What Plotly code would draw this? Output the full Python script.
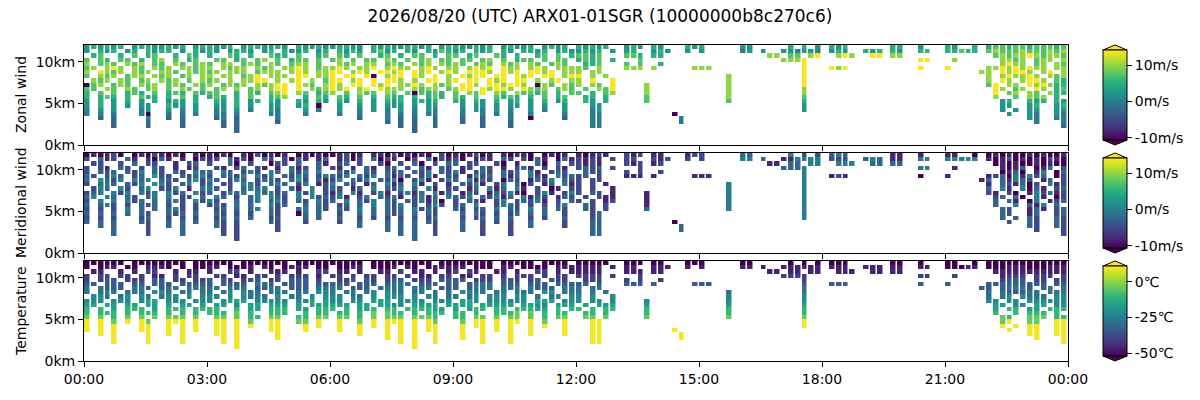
import plotly.graph_objects as go
from plotly.subplots import make_subplots

# ---------------- data ----------------
TITLE = "2026/08/20 (UTC) ARX01-01SGR (10000000b8c270c6)"
PANEL_NAMES = ["Zonal wind", "Meridional wind", "Temperature"]

TIME_BIN_MINUTES = 10          # width of one grid column
ALTITUDE_KM = [11.75, 11.25, 10.75, 10.25, 9.75, 9.25, 8.75, 8.25, 7.75, 7.25, 6.75,
               6.25, 5.75, 5.25, 4.75, 4.25, 3.75, 3.25, 2.75, 2.25, 1.75]

# value of each code digit
WIND_LEVELS_MS = [-11, -8, -5, -2.5, 0, 2.5, 5, 7.5, 10, 14]
TEMP_LEVELS_C = [-52, -46, -40, -34, -28, -22, -16, -10, -4, 10]

# zonal wind grid: one string per altitude row (top first), 8 blocks of 3 h
# (18 ten-minute columns each); '.' = no observation
ZONAL_ROWS = [
    "565656.56655656.56 6556.5665565.65565 56655.656556656.56 655656.56556.5656. 65656..565.65...65 6.....55.....6.6.5 .656......66..5... 65..6.677677677767",
    "5.656.56.6566.5.65 65.5665.56.6556.56 .6565.6756.65.6576 56.656.65.6656.565 5656.5.56..565..5. 5.....45.5..554554 .565..656.65..66.. 66766.787778777878",
    ".67..6.7.67..6.76. 6..76.6..766.7..67 .76.7..67.6.77.6.7 7.67..76.6..67.7.6 7767...776.66..... ..........88.77.89 ..898..99.88...... .......78788987887",
    "7.76.77.6.78.7.67. .77.67.78.7.677.7. 78.7.77.87.7.78.77 .77.78.7.677.7.77. 6767.6...7........ ............8889.. ..............99.. .8......8878.788.8",
    "8.787.878.77.87.78 7.88.787.87.788.7. .878.88.787.878.87 87.787.878.87.787. .667...7.7..6..... ...............9.. .................. ........8988.78.87",
    "78.898.87.878.8878 8.8788.878.8898.78 898.889.8988.898.8 8.8989.988.898.888 87.8...888.8.....8 88.............9.. .989..........9... 9.....889898988.88",
    "8.9878.878.887.878 78.888.7888.898.88 99.898.9989.989.89 8.9998.989.9989.88 8.88.............. ...............9.. .................. .....88.98998.89.8",
    "7.878.788.878.78.8 8.88.789.888.99.88 9.99.90.899.98.9.8 .9899.99.989.99.89 9.8.8............. ....8..........9.. .................. ......8.898898.878",
    ".878.87.78.878.7.8 78.8.8899.8.89.8.7 99.89.9.998.8.99.8 9.99.989.99.8.89.8 8.9..9............ ....8..........9.. .................. ......8.98.8998.76",
    "078.787.878.787.87 8.7878.87899.987.8 98.99.989.8898.878 .998.998998.087.87 8.87.9....8....... ....8..........9.. .................. ......79.88.989866",
    "77.87.87.78.7.87.7 .78.8.78.899.9.878 989.89.9888.8788.7 899.98998.9878.787 .7.879....8....... ....8..........8.. .................. .......98.78.98.67",
    "6.7.7.676.7.676.76 77..6.76.789.87.67 8.7.877.87.707676. 7.879.87.87767.6.7 7.6.78....8....... ....8..........8.. .................. .......9.78.87.866",
    "6.676.6.766.6.7.6. 676.6.7..678..6.76 .76.7.6.766.6.676. 76.7..7676.6.7.67. .66.6.....7....... ....8..........7.. .................. .......8..7.878.6.",
    "5.6.5.6.5.6.565.6. .65.6.56.65..65.65 .65.6.5.656.5656.. 65.65.6.56.5.6.56. .65.6.....7....... ....7..........6.. .................. ........56..656.65",
    "5.6.5.5.55..655.5. .55.6.5..55..56.0. .5..5.5.555.5.55.. .5.55.5.55.5.5..5. ..55.............. ...............5.. .................. ........55..56..56",
    "4.5.5...45..5.4.5. .45.5.4..54...5.4. .5..4.5.4.5.4.54.. .4.54.5.4..5.4..5. ..45.............. ...............5.. .................. ........5.5.55..55",
    "4.4.4...40..4.4.4. .44.4....44...4... .4..4...4.4.4.44.. .4..4.4.4..4....4. ..44..........0... .................. .................. .........5..54..54",
    "..3.3....4..3.3... .34.3.....4....... ....3...4.3.3..3.. .3..3...4..0....3. ..44...........4.. .................. .................. ............54..44",
    "....3....3....3... ..3.3.....3....... ........3.3.3..3.. .3..3...3......... ..44...........4.. .................. .................. .............4...4",
    "....3....3....3... ..3.3............. ..........3.3..3.. ....3...3......... ..44.............. .................. .................. .................3",
    ".................. ....3............. ............3..... .................. .................. .................. .................. ..................",
]

# meridional wind grid, same columns (shown where an observation exists)
MERIDIONAL_ROWS = [
    "010120101021010110 101011020101201010 012010110201010120 101201010110201011 101212221221122212 222222332222242222 234311111111111111 110001010100101001",
    "213120312103121302 120312013212031213 312021302130213021 203121032120312031 212132122132122121 222222443311114444 222222343311114422 444440101201010210",
    "322132031223013232 231302213022132031 123023120321302213 302213203122301322 212112121211222222 222222222211233244 224442233233222222 111111101010010100",
    "232123212132312123 321123121312312132 213123102312131232 312132312231321213 232322222222222222 222222222222333422 222222222222224422 212222221013201302",
    "243234324332432343 324332423432324243 232413243231324132 413232132324132323 232222121222222222 222222222222222422 222222222222222222 222222220130214103",
    "324243423352243234 243324342433243324 324132423132324132 231423231324213423 232222211121222221 112222222222222422 212122222222220222 122222123041423102",
    "325324243423324352 432243423324352431 241324132403241324 324132403241324132 232222222222222222 222222222222222422 222222222222222222 222221303143201302",
    "243435324354213432 342234423343524312 413241324132413241 132413241302413241 232312111111111111 222242222222222422 222222222222222222 222222123213021412",
    "324324253432243124 432243434324312432 324132413241324132 241324132413240132 222221222222222222 222242222222222422 222222222222222222 222222304124031423",
    "234342434243423342 342434243423342432 132413241324132413 413241324103241324 223221222212222222 222242222222222422 222222222222222222 222222213203142312",
    "342432324342432243 243423342432243423 241324132413241324 324132413241324132 222211222212222222 222242222222222422 222222222222222222 222222223130241302",
    "234243423432342342 423432342342432342 324232413243241302 243213243232413243 232212222212222222 222242222222222422 222222222222222222 222222230312043123",
    "323423243234232423 232342323423243232 423232423243232423 232423243232423243 232322222212222222 222242222222222422 222222222222222222 222222232042314232",
    "232323423232342323 323232342323234232 232342323232423232 323232423234232323 232322222232222222 222242222222222422 222222222222222222 222222223242131423",
    "323232323232323232 232323232323203232 323232323232323232 232323232323232323 222332222222222222 222222222222222422 222222222222222222 222222223242132423",
    "232323232323232323 323232323232323232 232323232323232323 323232323232323232 222332222222222222 222222222222222422 222222222222222222 222222223232323232",
    "323232323232323232 232323232323232323 323232323232323232 232323232323232323 223322222222220322 222222222222222222 222222222222222222 222222223232323232",
    "323232323232323232 232323232323232323 323232323232323232 232323232323232323 223322222222220322 222222222222222222 222222222222222222 222222223232323232",
    "323232323232323232 232323232323232323 323232323232323232 232323232323232323 223322222222220322 222222222222222222 222222222222222222 222222223232323232",
    "323232323232323232 232323232323232323 323232323232323232 232323232323232323 223322222222220322 222222222222222222 222222222222222222 222222223232323232",
    "323232323232323232 232323232323232323 323232323232323232 232323232323232323 223322222222220322 222222222222222222 222222222222222222 222222223232323232",
]

# temperature grid, 30-minute columns (6 per 3 h block)
TEMPERATURE_ROWS = [
    "000000 000000 000000 000000 000000 000000 000000 000000",
    "010100 101010 010101 101001 111111 111111 111111 010101",
    "111211 121112 111211 211121 111111 111111 111111 111111",
    "222122 212221 222212 122222 222222 222222 222222 221222",
    "232322 323232 232323 323232 222222 222222 222222 232322",
    "333333 334333 333433 343333 333333 333333 333333 333333",
    "434344 443434 434443 344434 444444 444444 444444 433434",
    "444544 454445 445444 544454 444444 444444 444444 444344",
    "545455 554545 545554 455545 555555 555555 555555 454545",
    "555655 565556 556555 655565 555555 555555 555555 555555",
    "666666 656666 666566 666656 666666 666666 666666 656565",
    "767677 776767 767776 677767 777777 777777 777777 676767",
    "777777 787777 778777 777877 777777 777777 777777 777777",
    "878888 887878 878887 788878 888888 888888 888888 878787",
    "989899 998989 989998 899989 999999 999999 999999 898989",
    "999999 999999 999999 999999 999999 999999 999999 999999",
    "999999 999999 999999 999999 999999 999999 999999 999999",
    "999999 999999 999999 999999 999999 999999 999999 999999",
    "999999 999999 999999 999999 999999 999999 999999 999999",
    "999999 999999 999999 999999 999999 999999 999999 999999",
    "999999 999999 999999 999999 999999 999999 999999 999999",
]

X_TICK_HOURS = [0, 3, 6, 9, 12, 15, 18, 21, 24]
X_TICK_LABELS = ["00:00", "03:00", "06:00", "09:00", "12:00", "15:00", "18:00", "21:00", "00:00"]
Y_TICK_KM = [0, 5, 10]
Y_TICK_LABELS = ["0km", "5km", "10km"]

WIND_RANGE = [-10.6, 14.2]
TEMP_RANGE = [-52, 11]
WIND_CBAR_TICKS = [-10, 0, 10]
WIND_CBAR_LABELS = ["-10m/s", "0m/s", "10m/s"]
TEMP_CBAR_TICKS = [-50, -25, 0]
TEMP_CBAR_LABELS = ["-50\u2103", "-25\u2103", "0\u2103"]


# ---------------- decoding ----------------
def join_blocks(rows, block_len, name):
    out = []
    for i, row in enumerate(rows):
        blocks = row.split()
        lens = [len(b) for b in blocks]
        if len(blocks) != 8 or any(l != block_len for l in lens):
            raise ValueError(f"{name} row {i}: lens={lens}")
        out.append("".join(blocks))
    return out


zon = join_blocks(ZONAL_ROWS, 18, "zonal")
mer = join_blocks(MERIDIONAL_ROWS, 18, "meridional")
tmp = join_blocks(TEMPERATURE_ROWS, 6, "temperature")
ncols = len(zon[0])
tfac = ncols // len(tmp[0])

times_h = [(c + 0.5) * TIME_BIN_MINUTES / 60.0 for c in range(ncols)]

z_zonal, z_mer, z_tmp = [], [], []
for r in range(len(ALTITUDE_KM)):
    rz, rm, rt = [], [], []
    for c in range(ncols):
        ch = zon[r][c]
        if ch == ".":
            rz.append(None); rm.append(None); rt.append(None)
        else:
            rz.append(WIND_LEVELS_MS[int(ch)])
            rm.append(WIND_LEVELS_MS[int(mer[r][c])])
            rt.append(TEMP_LEVELS_C[int(tmp[r][c // tfac])])
    z_zonal.append(rz); z_mer.append(rm); z_tmp.append(rt)

# ---------------- layout geometry (pixels) ----------------
W, H = 1200, 400
L, R, T, B = 84, 132, 45, 39
PW, PH = W - L - R, H - T - B
GAP = 8
PANEL_H = (PH - 2 * GAP) / 3
CB_X, CB_W, CB_TRI = 1103, 24, 5
FONT = "DejaVu Sans"


def px_x(px):
    return (px - L) / PW


def px_y(py):
    return (H - B - py) / PH


panels = [
    (z_zonal, WIND_RANGE, WIND_CBAR_TICKS, WIND_CBAR_LABELS),
    (z_mer, WIND_RANGE, WIND_CBAR_TICKS, WIND_CBAR_LABELS),
    (z_tmp, TEMP_RANGE, TEMP_CBAR_TICKS, TEMP_CBAR_LABELS),
]

fig = make_subplots(rows=3, cols=1, shared_xaxes=True, vertical_spacing=GAP / PH)

shapes, annotations = [], []
for i, (z, rng, tv, tt) in enumerate(panels):
    top = T + i * (PANEL_H + GAP)
    bot = top + PANEL_H
    mid = (top + bot) / 2
    fig.add_trace(
        go.Heatmap(
            x=times_h, y=ALTITUDE_KM, z=z,
            colorscale="Viridis", zmin=rng[0], zmax=rng[1],
            xgap=1.5, hoverinfo="skip",
            colorbar=dict(
                x=px_x(CB_X), xanchor="left", xpad=0,
                y=px_y(mid), yanchor="middle", ypad=0,
                len=PANEL_H - 2 * CB_TRI, lenmode="pixels",
                thickness=CB_W, thicknessmode="pixels",
                outlinewidth=1, outlinecolor="black",
                tickvals=tv, ticktext=tt,
                ticks="outside", ticklen=5, tickwidth=1, tickcolor="black",
                tickfont=dict(family=FONT, size=14, color="black"),
            ),
        ),
        row=i + 1, col=1,
    )
    x0, x1, xm = px_x(CB_X), px_x(CB_X + CB_W), px_x(CB_X + CB_W / 2)
    for base, tip, colr in ((top + CB_TRI, top, "#fde725"), (bot - CB_TRI, bot, "#440154")):
        shapes.append(dict(
            type="path", xref="paper", yref="paper",
            path=f"M {x0},{px_y(base)} L {xm},{px_y(tip)} L {x1},{px_y(base)} Z",
            fillcolor=colr, line=dict(color="black", width=1),
        ))
    annotations.append(dict(
        text=PANEL_NAMES[i], xref="paper", yref="paper",
        x=px_x(21), y=px_y(mid), xanchor="center", yanchor="middle",
        textangle=-90, showarrow=False,
        font=dict(family=FONT, size=14, color="black"),
    ))

axis_style = dict(
    showline=True, linecolor="black", linewidth=1, mirror=True,
    ticks="outside", ticklen=5, tickwidth=1, tickcolor="black",
    showgrid=False, zeroline=False,
    tickfont=dict(family=FONT, size=14, color="black"),
)
fig.update_xaxes(range=[0, 24], tickvals=X_TICK_HOURS, ticktext=X_TICK_LABELS, **axis_style)
fig.update_yaxes(range=[0, 12], tickvals=Y_TICK_KM, ticktext=Y_TICK_LABELS, **axis_style)

fig.update_layout(
    width=W, height=H,
    margin=dict(l=L, r=R, t=T, b=B),
    paper_bgcolor="white", plot_bgcolor="white",
    font=dict(family=FONT, size=14, color="black"),
    title=dict(text=TITLE, x=0.5, xref="container", xanchor="center",
               y=1 - 16 / H, yref="container", yanchor="middle",
               font=dict(family=FONT, size=17, color="black")),
    shapes=shapes, annotations=annotations,
    showlegend=False,
)

fig.write_html("out.html", config={"displayModeBar": False},
               post_script="document.body.style.margin='0px';")
